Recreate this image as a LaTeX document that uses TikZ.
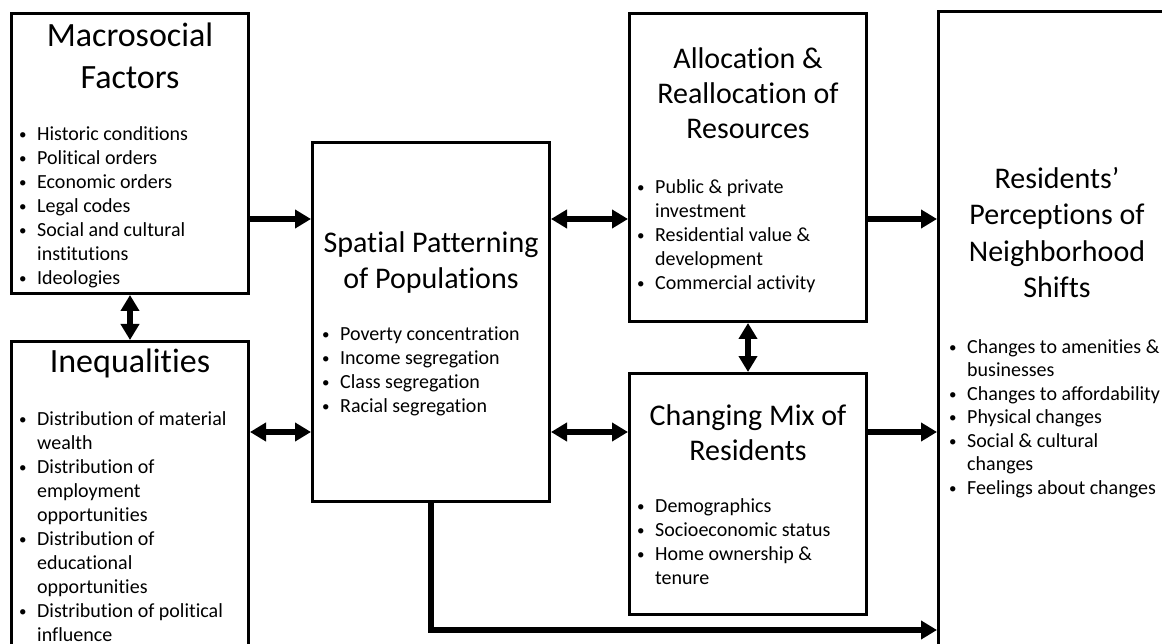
\documentclass[tikz,border=0pt]{standalone}
\usepackage{fontspec}
\setmainfont{Carlito}[Ligatures=NoCommon]
\usetikzlibrary{positioning,arrows.meta}

\newcommand{\bitem}{\makebox[20pt][l]{\hspace*{2pt}\raisebox{0.8pt}{\scalebox{0.75}{\textbullet}}}}
\newcommand{\bcont}{\hspace*{20pt}}

\begin{document}
\begin{tikzpicture}[x=1pt,y=-1pt,
    box/.style={draw,line width=3pt,minimum width=237pt,inner sep=0pt,anchor=north west},
    ttl/.style={align=center,inner sep=0pt},
    big/.style={font=\fontsize{34}{42}\selectfont},
    mid/.style={font=\fontsize{30}{35}\selectfont},
    lst/.style={align=left,inner sep=0pt,font=\fontsize{20}{24}\selectfont},
    arr/.style={line width=6pt,-{Triangle[length=16pt,width=18pt]}},
    dbl/.style={line width=6pt,{Triangle[length=16pt,width=18pt]}-{Triangle[length=16pt,width=18pt]}}]
  \useasboundingbox (0,0) rectangle (1162,644);
  \clip (0,0) rectangle (1162,644);

  % boxes
  \node[box,minimum height=280pt] (macro) at (10,12) {};
  \node[box,minimum height=400pt] (ineq) at (10,340) {};
  \node[box,minimum height=359pt] (spatial) at (311,141) {};
  \node[box,minimum height=308pt] (alloc) at (628,12) {};
  \node[box,minimum height=241pt] (mix) at (628,372) {};
  \node[box,minimum height=700pt] (percep) at (937,10) {};

  % titles
  \node[ttl,big,below=4.6pt of macro.north] (macro-t) {\strut Macrosocial\\Factors};
  \node[ttl,big,below=2.6pt of ineq.north] (ineq-t) {\strut Inequalities};
  \node[ttl,mid,below=86pt of spatial.north,font=\fontsize{30}{36}\selectfont] (spatial-t) {\strut Spatial Patterning\\of Populations};
  \node[ttl,mid,below=31.5pt of alloc.north] (alloc-t) {\strut Allocation \&\\Reallocation of\\Resources};
  \node[ttl,mid,below=28.5pt of mix.north] (mix-t) {\strut Changing Mix of\\Residents};
  \node[ttl,below=152.5pt of percep.north,font=\fontsize{30}{36.5}\selectfont] (percep-t) {\strut Residents’\\Perceptions of\\Neighborhood\\Shifts};

  % bullet lists
  \node[lst,below right=111.2pt and 7pt of macro.north west] (macro-l) {\strut\bitem Historic conditions\\\bitem Political orders\\\bitem Economic orders\\\bitem Legal codes\\\bitem Social and cultural\\\bcont institutions\\\bitem Ideologies};
  \node[lst,below right=68.2pt and 7pt of ineq.north west] (ineq-l) {\strut\bitem Distribution of material\\\bcont wealth\\\bitem Distribution of\\\bcont employment\\\bcont opportunities\\\bitem Distribution of\\\bcont educational\\\bcont opportunities\\\bitem Distribution of political\\\bcont influence};
  \node[lst,below right=182.2pt and 9pt of spatial.north west] (spatial-l) {\strut\bitem Poverty concentration\\\bitem Income segregation\\\bitem Class segregation\\\bitem Racial segregation};
  \node[lst,below right=164.2pt and 7pt of alloc.north west] (alloc-l) {\strut\bitem Public \& private\\\bcont investment\\\bitem Residential value \&\\\bcont development\\\bitem Commercial activity};
  \node[lst,below right=123.2pt and 7pt of mix.north west] (mix-l) {\strut\bitem Demographics\\\bitem Socioeconomic status\\\bitem Home ownership \&\\\bcont tenure};
  \node[lst,below right=326.5pt and 10pt of percep.north west,font=\fontsize{20}{23.5}\selectfont] (percep-l) {\strut\bitem Changes to amenities \&\\\bcont businesses\\\bitem Changes to affordability\\\bitem Physical changes\\\bitem Social \& cultural\\\bcont changes\\\bitem Feelings about changes};

  % connectors
  \coordinate (rowA) at (0,219);
  \coordinate (rowB) at (0,432);
  \coordinate (rowC) at (0,630);
  \draw[arr] (macro.east |- rowA) -- (spatial.west |- rowA);
  \draw[dbl] (macro.south) -- (ineq.north);
  \draw[dbl] (ineq.east |- rowB) -- (spatial.west |- rowB);
  \draw[dbl] (spatial.east |- rowA) -- (alloc.west |- rowA);
  \draw[dbl] (spatial.east |- rowB) -- (mix.west |- rowB);
  \draw[dbl] (alloc.south) -- (mix.north);
  \draw[arr] (alloc.east |- rowA) -- (percep.west |- rowA);
  \draw[arr] (mix.east |- rowB) -- (percep.west |- rowB);
  \draw[arr] (spatial.south) |- (percep.west |- rowC);
\end{tikzpicture}
\end{document}
